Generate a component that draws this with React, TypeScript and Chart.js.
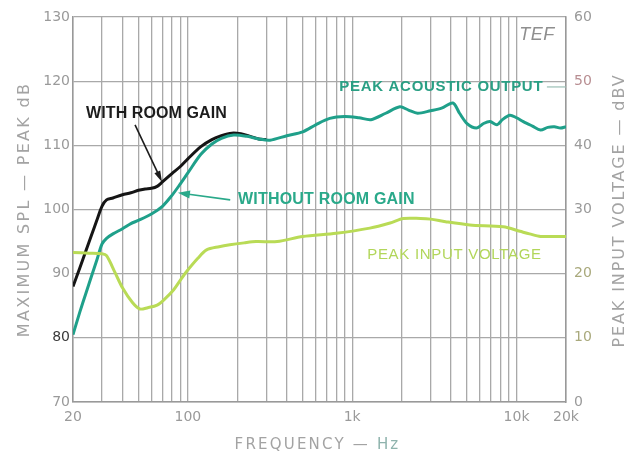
import React, { useEffect, useRef } from 'react';
import { Chart, registerables } from 'chart.js';

Chart.register(...registerables);

// ---- data ----
const withRoomFreq = [20, 22, 24, 26, 28, 30, 32, 35, 40, 45, 50, 55, 60, 65, 70, 80, 90, 100, 120, 140, 160, 185, 210, 240, 270, 300];
const withRoomDb = [88, 90.9, 93.6, 96.1, 98.4, 100.5, 101.5, 101.8, 102.3, 102.6, 103, 103.2, 103.3, 103.6, 104.3, 105.6, 106.7, 107.9, 109.8, 110.9, 111.5, 111.9, 111.8, 111.4, 111.0, 110.9];

const acousticFreq = [20, 22, 24, 26, 28, 30, 32, 35, 40, 45, 50, 60, 70, 80, 90, 100, 120, 140, 160, 190, 230, 270, 316, 400, 500, 600, 730, 900, 1100, 1300, 1600, 1950, 2200, 2500, 3000, 3500, 4100, 4500, 5000, 5700, 6300, 6900, 7600, 8200, 9100, 10000, 11000, 12500, 14000, 15500, 17000, 18500, 20000];
const acousticDb = [80.5, 84, 87, 89.7, 92.2, 94.6, 95.5, 96.2, 97, 97.8, 98.3, 99.3, 100.5, 102.2, 104, 105.7, 108.6, 110.2, 111.1, 111.6, 111.4, 111, 110.8, 111.5, 112.1, 113.2, 114.2, 114.5, 114.3, 114, 115, 116, 115.5, 115, 115.4, 115.8, 116.6, 115, 113.4, 112.7, 113.4, 113.7, 113.2, 114, 114.7, 114.3, 113.7, 113, 112.4, 112.8, 112.9, 112.7, 112.9];

const inputFreq = [20, 25, 30, 32, 36, 40, 46, 51, 57, 65, 72, 82, 90, 98, 115, 130, 155, 180, 220, 260, 350, 500, 800, 1280, 1700, 2050, 2600, 3000, 3700, 5200, 8300, 10500, 12000, 14000, 17000, 20000];
const inputDbv = [23.3, 23.2, 23.1, 22.8, 20.2, 17.8, 15.5, 14.5, 14.7, 15.1, 16, 17.5, 19, 20.3, 22.4, 23.7, 24.2, 24.5, 24.8, 25, 25, 25.8, 26.3, 27.1, 27.9, 28.6, 28.6, 28.5, 28.1, 27.6, 27.3, 26.6, 26.2, 25.8, 25.8, 25.8];

const gridFreqs = [20, 30, 40, 50, 60, 70, 80, 90, 100, 200, 300, 400, 500, 600, 700, 800, 900, 1000, 2000, 3000, 4000, 5000, 6000, 7000, 8000, 9000, 10000, 20000];
const labeledFreqs = [20, 100, 1000, 10000, 20000];
const labeledText = ['20', '100', '1k', '10k', '20k'];

const splMin = 70;
const splMax = 130;
const voltMin = 0;
const voltMax = 60;
const tickStep = 10;

const xTitle = 'FREQUENCY — ';
const xTitleUnit = 'Hz';
const leftTitle = 'MAXIMUM SPL — PEAK dB';
const rightTitle = 'PEAK INPUT VOLTAGE — dBV';

const GRID = '#a9a9a9';
const TICK = '#9a9a9a';

function toXY(xs: number[], ys: number[]) {
  return xs.map((x, i) => ({ x, y: ys[i] }));
}

function drawText(ctx: CanvasRenderingContext2D, text: string, x: number, y: number, font: string, color: string, spacing: number, align: CanvasTextAlign = 'left') {
  ctx.font = font;
  (ctx as any).letterSpacing = spacing + 'px';
  ctx.fillStyle = color;
  ctx.textAlign = align;
  ctx.textBaseline = 'middle';
  ctx.fillText(text, x, y);
}

function arrow(ctx: CanvasRenderingContext2D, x0: number, y0: number, x1: number, y1: number, color: string, lw: number, headLen: number, headHalf: number) {
  const ang = Math.atan2(y1 - y0, x1 - x0);
  ctx.strokeStyle = color;
  ctx.fillStyle = color;
  ctx.lineWidth = lw;
  ctx.beginPath();
  ctx.moveTo(x0, y0);
  ctx.lineTo(x1 - Math.cos(ang) * headLen * 0.6, y1 - Math.sin(ang) * headLen * 0.6);
  ctx.stroke();
  ctx.beginPath();
  ctx.moveTo(x1, y1);
  ctx.lineTo(x1 - Math.cos(ang) * headLen - Math.sin(ang) * headHalf, y1 - Math.sin(ang) * headLen + Math.cos(ang) * headHalf);
  ctx.lineTo(x1 - Math.cos(ang) * headLen + Math.sin(ang) * headHalf, y1 - Math.sin(ang) * headLen - Math.cos(ang) * headHalf);
  ctx.closePath();
  ctx.fill();
}

const notesPlugin = {
  id: 'notes',
  afterDatasetsDraw(chart: any) {
    const ctx: CanvasRenderingContext2D = chart.ctx;
    const x = chart.scales.x;
    const y = chart.scales.y;
    const y1 = chart.scales.y1;
    const px = (f: number) => x.getPixelForValue(f);
    const py = (v: number) => y.getPixelForValue(v);
    ctx.save();
    drawText(ctx, 'WITH ROOM GAIN', px(24), py(115.0), 'bold 16px "Liberation Sans"', '#1c1c1c', 0.1);
    arrow(ctx, px(47.7), py(113.2), px(69.6), py(104.3), '#1c1c1c', 1.6, 11, 3.2);

    drawText(ctx, 'WITHOUT ROOM GAIN', px(202), py(101.5), 'bold 16px "Liberation Sans"', '#2aa98a', 0.2);
    arrow(ctx, px(181), py(101.5), px(87), py(102.6), '#2aa98a', 1.6, 12, 4);

    drawText(ctx, 'PEAK ACOUSTIC OUTPUT', px(834), py(119.1), 'bold 15px "Liberation Sans"', '#2a9f84', 0.7);
    ctx.strokeStyle = '#9abfb5';
    ctx.lineWidth = 1.2;
    ctx.beginPath();
    ctx.moveTo(px(15300), py(119.1));
    ctx.lineTo(px(20000), py(119.1));
    ctx.stroke();

    drawText(ctx, 'PEAK INPUT VOLTAGE', px(1234), y1.getPixelForValue(22.9), '15px "Liberation Sans"', '#b2d65a', 0.7);
    drawText(ctx, 'TEF', px(10400), py(127.2), 'italic 18px "Liberation Sans"', '#8f8f8f', 0.5);
    ctx.restore();
  },
  afterDraw(chart: any) {
    const ctx: CanvasRenderingContext2D = chart.ctx;
    const ca = chart.chartArea;
    ctx.save();
    // bottom title
    ctx.font = '15px "DejaVu Sans"';
    (ctx as any).letterSpacing = '2.2px';
    const w1 = ctx.measureText(xTitle).width;
    const w2 = ctx.measureText(xTitleUnit).width;
    const cx = (ca.left + ca.right) / 2 - 2;
    const start = cx - (w1 + w2) / 2;
    drawText(ctx, xTitle, start, 445, '15px "DejaVu Sans"', '#a3a3a3', 2.2);
    drawText(ctx, xTitleUnit, start + w1, 445, '15px "DejaVu Sans"', '#8fb3ad', 2.2);
    // left title
    ctx.save();
    ctx.translate(25, (ca.top + ca.bottom) / 2);
    ctx.rotate(-Math.PI / 2);
    drawText(ctx, leftTitle, 0, 0, '16px "DejaVu Sans"', '#a3a3a3', 2.3, 'center');
    ctx.restore();
    // right title
    ctx.save();
    ctx.translate(620, (ca.top + ca.bottom) / 2 + 1);
    ctx.rotate(-Math.PI / 2);
    drawText(ctx, rightTitle, 0, 0, '16px "DejaVu Sans"', '#a3a3a3', 1.9, 'center');
    ctx.restore();
    ctx.restore();
  },
};

export default function App() {
  const ref = useRef<HTMLCanvasElement | null>(null);
  useEffect(() => {
    if (!ref.current) return;
    const chart = new Chart(ref.current, {
      type: 'line',
      data: {
        datasets: [
          {
            label: 'Peak input voltage',
            data: toXY(inputFreq, inputDbv),
            yAxisID: 'y1',
            borderColor: '#b9db56',
            borderWidth: 3,
            pointRadius: 0,
            tension: 0.3,
          },
          {
            label: 'Without room gain / peak acoustic output',
            data: toXY(acousticFreq, acousticDb),
            yAxisID: 'y',
            borderColor: '#1fa08a',
            borderWidth: 3,
            pointRadius: 0,
            tension: 0.3,
          },
          {
            label: 'With room gain',
            data: toXY(withRoomFreq, withRoomDb),
            yAxisID: 'y',
            borderColor: '#151515',
            borderWidth: 3,
            pointRadius: 0,
            tension: 0.3,
          },
        ],
      },
      options: {
        animation: false,
        responsive: false,
        devicePixelRatio: 1,
        layout: { padding: { top: 17, left: 0, right: 0, bottom: 0 } },
        plugins: { legend: { display: false }, tooltip: { enabled: false } },
        events: [],
        scales: {
          x: {
            type: 'logarithmic',
            min: 20,
            max: 20000,
            afterBuildTicks: (scale: any) => {
              scale.ticks = gridFreqs.map((v) => ({ value: v }));
            },
            afterFit: (scale: any) => {
              scale.height = 56;
            },
            ticks: {
              autoSkip: false,
              maxRotation: 0,
              minRotation: 0,
              padding: 7,
              color: TICK,
              font: { family: '"DejaVu Sans"', size: 14 },
              callback: (value: any) => {
                const i = labeledFreqs.indexOf(Number(value));
                return i >= 0 ? labeledText[i] : '';
              },
            },
            grid: { color: GRID, lineWidth: 1.3, drawTicks: false },
            border: { display: true, color: '#999', width: 1.5 },
          },
          y: {
            type: 'linear',
            position: 'left',
            min: splMin,
            max: splMax,
            afterFit: (scale: any) => {
              scale.width = 73;
            },
            ticks: {
              stepSize: tickStep,
              padding: 3,
              font: { family: '"DejaVu Sans"', size: 14 },
              color: (c: any) => (c.tick && c.tick.value === 80 ? '#3a3a3a' : TICK),
            },
            grid: { color: GRID, lineWidth: 1.3, drawTicks: false },
            border: { display: true, color: '#999', width: 1.5 },
          },
          y1: {
            type: 'linear',
            position: 'right',
            min: voltMin,
            max: voltMax,
            afterFit: (scale: any) => {
              scale.width = 68;
            },
            ticks: {
              stepSize: tickStep,
              padding: 8,
              font: { family: '"DejaVu Sans"', size: 14 },
              color: (c: any) => {
                const v = c.tick ? c.tick.value : -1;
                if (v === 50) return '#b88e92';
                if (v === 10 || v === 20) return '#a9a97c';
                return TICK;
              },
            },
            grid: { drawOnChartArea: false, drawTicks: false },
            border: { display: true, color: '#999', width: 1.5 },
          },
        },
      },
      plugins: [notesPlugin],
    } as any);
    return () => chart.destroy();
  }, []);

  return (
    <div style={{ position: 'absolute', left: 0, top: 0, width: 634, height: 458, background: '#fff' }}>
      <canvas ref={ref} width={634} height={458} />
    </div>
  );
}
